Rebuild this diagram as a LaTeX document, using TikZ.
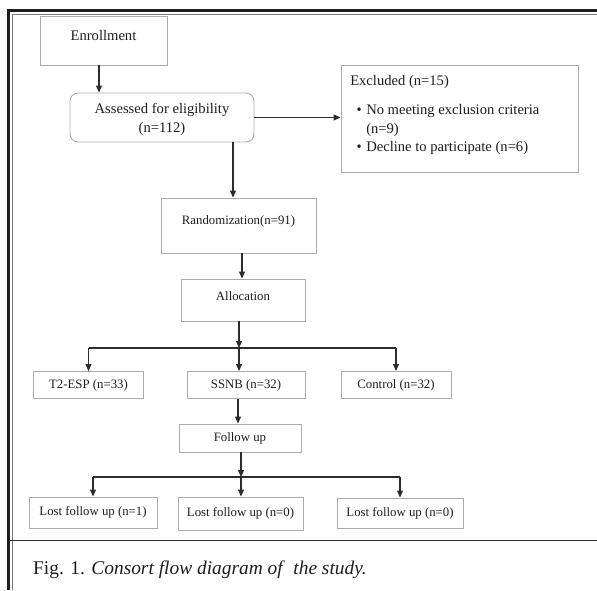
\documentclass[tikz,border=0pt]{standalone}
\usepackage{fontspec}
\setmainfont{Liberation Serif}
\usetikzlibrary{arrows.meta}
\definecolor{boxgray}{RGB}{172,172,172}
\definecolor{linegray}{RGB}{45,45,45}
\definecolor{txt}{RGB}{30,30,30}
\definecolor{frameout}{RGB}{30,30,30}
\definecolor{framein}{RGB}{120,120,120}
\newcommand{\nodefont}{\fontsize{12.8}{18}\selectfont}
\newcommand{\bigfont}{\fontsize{14.6}{19}\selectfont}
\begin{document}
\begin{tikzpicture}[x=1pt,y=-1pt,
  box/.style={draw=boxgray, line width=0.9pt, inner sep=0pt, font=\nodefont, text=txt, align=center},
  arr/.style={draw=linegray, line width=1.1pt, -{Triangle[length=7pt,width=6pt]}},
  ln/.style={draw=linegray, line width=1.1pt}]
\useasboundingbox (0,0) rectangle (597,590);
\fill[white] (0,0) rectangle (597,590);
% frame
\draw[frameout, line width=3pt] (8.5,590) -- (8.5,10.5) -- (597,10.5);
\draw[framein, line width=1.2pt] (12.5,590) -- (12.5,14.3) -- (597,14.3);
\draw[linegray, line width=1.6pt] (10,540.5) -- (597,540.5);
% nodes
\node[box, font=\bigfont, minimum width=127pt, minimum height=49pt, text height=9.9pt, text depth=9pt] (enroll) at (103.5,40.5) {Enrollment};
\node[box, font=\bigfont, rounded corners=8pt, minimum width=184pt, minimum height=49pt] (assess) at (162,117.5) {\rule{0pt}{15pt}Assessed for eligibility\\(n=112)};
\node[box, minimum width=237pt, minimum height=107pt] (excl) at (459.5,118.5) {};
\node[font=\fontsize{14.6}{18.5}\selectfont, text=txt, align=left, inner sep=0pt, anchor=north west] (excltext) at ([shift={(9.5pt,-10.5pt)}]excl.north west)
  {Excluded (n=15)\\[11pt]
   \makebox[16pt][r]{\textbullet\hspace{4.5pt}}No meeting exclusion criteria\\
   \hspace*{16pt}(n=9)\\
   \makebox[16pt][r]{\textbullet\hspace{4.5pt}}Decline to participate (n=6)};
\node[box, minimum width=155pt, minimum height=55pt, text height=8.9pt, text depth=10pt] (rand) at (238.5,225.5) {Randomization(n=91)};
\node[box, minimum width=124pt, minimum height=42pt, text height=8.8pt, text depth=8.8pt] (alloc) at (243,300) {Allocation};
\node[box, minimum width=110pt, minimum height=27pt] (t2) at (88.5,385) {T2-ESP (n=33)};
\node[box, minimum width=118pt, minimum height=27pt] (ssnb) at (246,385) {SSNB (n=32)};
\node[box, minimum width=110pt, minimum height=27pt] (ctrl) at (396,385) {Control (n=32)};
\node[box, minimum width=122pt, minimum height=28pt] (follow) at (240,438) {Follow up};
\node[box, minimum width=128pt, minimum height=31pt] (lost1) at (93,512.5) {Lost follow up (n=1)};
\node[box, minimum width=125pt, minimum height=33pt] (lost2) at (240.5,513.5) {Lost follow up (n=0)};
\node[box, minimum width=126pt, minimum height=30pt] (lost3) at (400,513) {Lost follow up (n=0)};
\node[font=\fontsize{19.4}{24}\selectfont, text=txt, inner sep=0pt, anchor=base west] (cap) at (33,574) {Fig. 1. \textit{Consort flow diagram of\hspace{0.3em} the study.}};
% branch points
\coordinate (b1) at (239,348);
\coordinate (b2) at (241,477);
% connectors
\draw[arr] ([xshift=-4.5pt]enroll.south) -- ([xshift=-4.5pt]enroll.south |- assess.north);
\draw[arr] (assess.east) -- (assess.east -| excl.west);
\draw[arr] ([xshift=71pt]assess.south) -- ([xshift=71pt]assess.south |- rand.north);
\draw[arr] ([xshift=3.5pt]rand.south) -- ([xshift=3.5pt]rand.south |- alloc.north);
\draw[arr] (alloc.south -| b1) -- (b1);
\draw[ln] (b1 -| t2.north) -- (b1 -| ctrl.north);
\draw[arr] (b1 -| t2.north) -- (t2.north);
\draw[arr] (b1) -- (b1 |- ssnb.north);
\draw[arr] (b1 -| ctrl.north) -- (ctrl.north);
\draw[arr] ([xshift=-8pt]ssnb.south) -- ([xshift=-8pt]ssnb.south |- follow.north);
\draw[arr] (follow.south -| b2) -- (b2);
\draw[ln] (b2 -| lost1.north) -- (b2 -| lost3.north);
\draw[arr] (b2 -| lost1.north) -- (lost1.north);
\draw[arr] (b2) -- (b2 |- lost2.north);
\draw[arr] (b2 -| lost3.north) -- (lost3.north);
\end{tikzpicture}
\end{document}
